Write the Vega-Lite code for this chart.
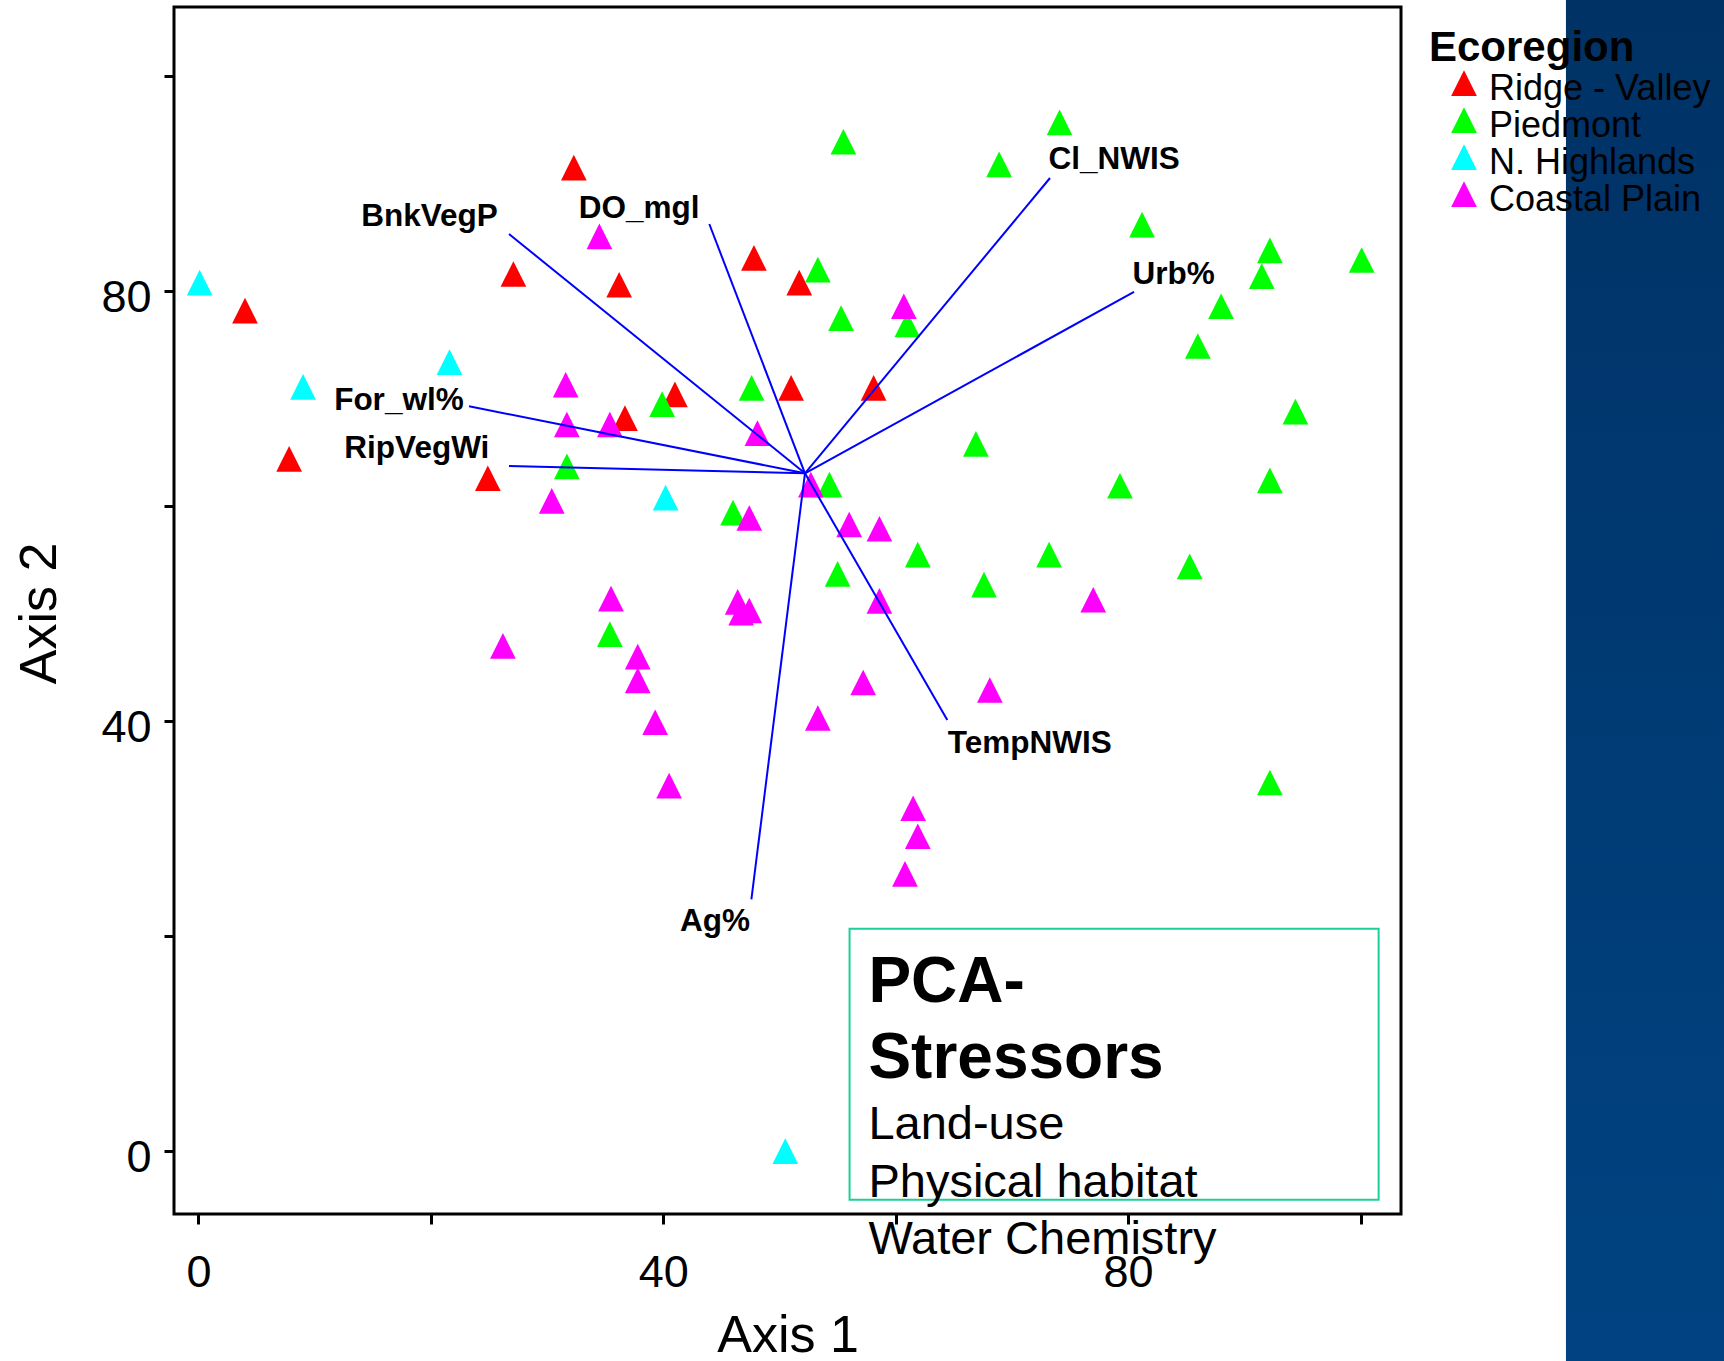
{
  "$schema": "https://vega.github.io/schema/vega-lite/v6.json",
  "width": 1227,
  "height": 1207,
  "autosize": {"type": "none"},
  "padding": {"left": 174, "top": 7, "right": 323, "bottom": 147},
  "background": "white",
  "config": {
    "font": "Liberation Sans",
    "view": {"stroke": "black", "strokeWidth": 3},
    "axis": {
      "grid": false, "domain": false, "ticks": true, "tickColor": "black", "tickWidth": 3, "tickSize": 10,
      "labelColor": "black", "labelFontSize": 45, "labelFont": "Liberation Sans",
      "labelFlush": false, "labelOverlap": false, "labelBound": false,
      "titleFont": "Liberation Sans", "titleFontWeight": "normal", "titleFontSize": 52, "titleColor": "black"
    }
  },
  "datasets": {
    "one": [{"k": 1}],
    "sites": [
      {"x": 32.3, "y": 91.5, "Ecoregion": "Ridge - Valley"},
      {"x": 4.0, "y": 78.2, "Ecoregion": "Ridge - Valley"},
      {"x": 27.1, "y": 81.6, "Ecoregion": "Ridge - Valley"},
      {"x": 7.8, "y": 64.4, "Ecoregion": "Ridge - Valley"},
      {"x": 24.9, "y": 62.6, "Ecoregion": "Ridge - Valley"},
      {"x": 47.8, "y": 83.1, "Ecoregion": "Ridge - Valley"},
      {"x": 51.7, "y": 80.8, "Ecoregion": "Ridge - Valley"},
      {"x": 36.2, "y": 80.6, "Ecoregion": "Ridge - Valley"},
      {"x": 51.0, "y": 71.0, "Ecoregion": "Ridge - Valley"},
      {"x": 58.1, "y": 71.0, "Ecoregion": "Ridge - Valley"},
      {"x": 41.0, "y": 70.4, "Ecoregion": "Ridge - Valley"},
      {"x": 36.7, "y": 68.2, "Ecoregion": "Ridge - Valley"},
      {"x": 31.7, "y": 63.7, "Ecoregion": "Piedmont"},
      {"x": 55.5, "y": 93.9, "Ecoregion": "Piedmont"},
      {"x": 53.3, "y": 82.0, "Ecoregion": "Piedmont"},
      {"x": 61.0, "y": 76.9, "Ecoregion": "Piedmont"},
      {"x": 55.3, "y": 77.5, "Ecoregion": "Piedmont"},
      {"x": 47.6, "y": 71.0, "Ecoregion": "Piedmont"},
      {"x": 39.9, "y": 69.5, "Ecoregion": "Piedmont"},
      {"x": 66.9, "y": 65.8, "Ecoregion": "Piedmont"},
      {"x": 54.3, "y": 62.0, "Ecoregion": "Piedmont"},
      {"x": 74.1, "y": 95.7, "Ecoregion": "Piedmont"},
      {"x": 68.9, "y": 91.8, "Ecoregion": "Piedmont"},
      {"x": 81.2, "y": 86.2, "Ecoregion": "Piedmont"},
      {"x": 92.2, "y": 83.8, "Ecoregion": "Piedmont"},
      {"x": 100.1, "y": 82.9, "Ecoregion": "Piedmont"},
      {"x": 91.5, "y": 81.4, "Ecoregion": "Piedmont"},
      {"x": 88.0, "y": 78.6, "Ecoregion": "Piedmont"},
      {"x": 86.0, "y": 74.9, "Ecoregion": "Piedmont"},
      {"x": 94.4, "y": 68.8, "Ecoregion": "Piedmont"},
      {"x": 79.3, "y": 61.9, "Ecoregion": "Piedmont"},
      {"x": 92.2, "y": 62.4, "Ecoregion": "Piedmont"},
      {"x": 73.2, "y": 55.5, "Ecoregion": "Piedmont"},
      {"x": 67.6, "y": 52.7, "Ecoregion": "Piedmont"},
      {"x": 85.3, "y": 54.4, "Ecoregion": "Piedmont"},
      {"x": 92.2, "y": 34.3, "Ecoregion": "Piedmont"},
      {"x": 46.0, "y": 59.4, "Ecoregion": "Piedmont"},
      {"x": 61.9, "y": 55.5, "Ecoregion": "Piedmont"},
      {"x": 55.0, "y": 53.7, "Ecoregion": "Piedmont"},
      {"x": 35.4, "y": 48.1, "Ecoregion": "Piedmont"},
      {"x": 0.1, "y": 80.8, "Ecoregion": "N. Highlands"},
      {"x": 21.6, "y": 73.4, "Ecoregion": "N. Highlands"},
      {"x": 9.0, "y": 71.1, "Ecoregion": "N. Highlands"},
      {"x": 40.2, "y": 60.8, "Ecoregion": "N. Highlands"},
      {"x": 50.5, "y": 0.0, "Ecoregion": "N. Highlands"},
      {"x": 31.6, "y": 71.3, "Ecoregion": "Coastal Plain"},
      {"x": 31.7, "y": 67.6, "Ecoregion": "Coastal Plain"},
      {"x": 30.4, "y": 60.5, "Ecoregion": "Coastal Plain"},
      {"x": 26.2, "y": 47.0, "Ecoregion": "Coastal Plain"},
      {"x": 34.5, "y": 85.1, "Ecoregion": "Coastal Plain"},
      {"x": 60.7, "y": 78.6, "Ecoregion": "Coastal Plain"},
      {"x": 35.4, "y": 67.6, "Ecoregion": "Coastal Plain"},
      {"x": 48.1, "y": 66.8, "Ecoregion": "Coastal Plain"},
      {"x": 52.7, "y": 62.0, "Ecoregion": "Coastal Plain"},
      {"x": 77.0, "y": 51.3, "Ecoregion": "Coastal Plain"},
      {"x": 68.1, "y": 42.9, "Ecoregion": "Coastal Plain"},
      {"x": 47.4, "y": 58.9, "Ecoregion": "Coastal Plain"},
      {"x": 56.0, "y": 58.3, "Ecoregion": "Coastal Plain"},
      {"x": 58.6, "y": 57.9, "Ecoregion": "Coastal Plain"},
      {"x": 35.5, "y": 51.4, "Ecoregion": "Coastal Plain"},
      {"x": 46.4, "y": 51.1, "Ecoregion": "Coastal Plain"},
      {"x": 47.4, "y": 50.3, "Ecoregion": "Coastal Plain"},
      {"x": 46.7, "y": 50.1, "Ecoregion": "Coastal Plain"},
      {"x": 58.6, "y": 51.2, "Ecoregion": "Coastal Plain"},
      {"x": 37.8, "y": 46.0, "Ecoregion": "Coastal Plain"},
      {"x": 37.8, "y": 43.8, "Ecoregion": "Coastal Plain"},
      {"x": 57.2, "y": 43.6, "Ecoregion": "Coastal Plain"},
      {"x": 39.3, "y": 39.9, "Ecoregion": "Coastal Plain"},
      {"x": 53.3, "y": 40.3, "Ecoregion": "Coastal Plain"},
      {"x": 40.5, "y": 34.0, "Ecoregion": "Coastal Plain"},
      {"x": 61.5, "y": 31.9, "Ecoregion": "Coastal Plain"},
      {"x": 61.9, "y": 29.3, "Ecoregion": "Coastal Plain"},
      {"x": 60.8, "y": 25.8, "Ecoregion": "Coastal Plain"}
    ],
    "loadings": [
      {"name": "BnkVegP", "x": 26.72, "y": 85.32},
      {"name": "DO_mgl", "x": 43.96, "y": 86.25},
      {"name": "Cl_NWIS", "x": 73.28, "y": 90.53},
      {"name": "Urb%", "x": 80.51, "y": 79.93},
      {"name": "For_wl%", "x": 23.28, "y": 69.30},
      {"name": "RipVegWi", "x": 26.72, "y": 63.74},
      {"name": "Ag%", "x": 47.58, "y": 23.43},
      {"name": "TempNWIS", "x": 64.44, "y": 40.11}
    ],
    "labels": [
      {"name": "BnkVegP", "x": 25.75, "y": 86.07, "side": "right"},
      {"name": "DO_mgl", "x": 43.12, "y": 86.85, "side": "right"},
      {"name": "For_wl%", "x": 22.82, "y": 68.96, "side": "right"},
      {"name": "RipVegWi", "x": 25.03, "y": 64.52, "side": "right"},
      {"name": "Ag%", "x": 47.46, "y": 20.52, "side": "right"},
      {"name": "Cl_NWIS", "x": 73.15, "y": 91.34, "side": "left"},
      {"name": "Urb%", "x": 80.37, "y": 80.71, "side": "left"},
      {"name": "TempNWIS", "x": 64.48, "y": 37.08, "side": "left"}
    ]
  },
  "layer": [
    {
      "data": {"name": "one"},
      "mark": {"type": "rect",
        "fill": {"gradient": "linear", "x1": 0, "y1": 0, "x2": 0, "y2": 1,
          "stops": [{"offset": 0, "color": "#003265"}, {"offset": 1, "color": "#004382"}]}},
      "encoding": {
        "x": {"datum": 117.68, "type": "quantitative", "scale": {"domain": [-2.108, 103.485], "nice": false, "zero": false}},
        "x2": {"datum": 140},
        "y": {"datum": 107.2, "type": "quantitative", "scale": {"domain": [-5.842, 106.437], "nice": false, "zero": false}},
        "y2": {"datum": -19.7}
      }
    },
    {
      "data": {"name": "sites"},
      "mark": {"type": "point", "filled": true, "shape": "M0,-1L1,1L-1,1Z", "size": 660, "opacity": 1, "strokeWidth": 0},
      "encoding": {
        "x": {
          "field": "x", "type": "quantitative",
          "scale": {"domain": [-2.108, 103.485], "nice": false, "zero": false},
          "axis": {"title": "Axis 1", "values": [0, 20, 40, 60, 80, 100],
            "labelExpr": "datum.value % 40 === 0 ? datum.label : ''",
            "labelPadding": 26, "titleBaseline": "alphabetic", "titleY": 137}
        },
        "y": {
          "field": "y", "type": "quantitative",
          "scale": {"domain": [-5.842, 106.437], "nice": false, "zero": false},
          "axis": {"title": "Axis 2", "values": [0, 20, 40, 60, 80, 100],
            "labelExpr": "datum.value % 40 === 0 ? datum.label : ''",
            "labelPadding": 13, "labelOffset": 6.6,
            "titleBaseline": "alphabetic", "titleAngle": -90, "titleX": -119, "titleY": 606}
        },
        "color": {
          "field": "Ecoregion", "type": "nominal",
          "scale": {"domain": ["Ridge - Valley", "Piedmont", "N. Highlands", "Coastal Plain"],
                    "range": ["#FF0000", "#00FF00", "#00FFFF", "#FF00FF"]},
          "legend": {
            "orient": "none", "legendX": 1255, "legendY": 21, "padding": 0,
            "title": "Ecoregion", "titleFontSize": 42, "titleFontWeight": "bold", "titleColor": "black",
            "titleFont": "Liberation Sans", "titleLimit": 400, "titlePadding": 1,
            "labelFontSize": 36, "labelColor": "black", "labelFont": "Liberation Sans", "labelLimit": 400,
            "symbolType": "M0,-1.45L1,0.55L-1,0.55Z", "symbolSize": 660, "symbolOffset": 17,
            "symbolStrokeWidth": 0, "symbolOpacity": 1, "labelOffset": 7, "rowPadding": 0
          }
        }
      }
    },
    {
      "data": {"name": "loadings"},
      "mark": {"type": "rule", "color": "#0000FF", "strokeWidth": 2},
      "encoding": {
        "x": {"field": "x", "type": "quantitative", "scale": {"domain": [-2.108, 103.485], "nice": false, "zero": false}},
        "y": {"field": "y", "type": "quantitative", "scale": {"domain": [-5.842, 106.437], "nice": false, "zero": false}},
        "x2": {"datum": 52.19}, "y2": {"datum": 63.06}
      }
    },
    {
      "data": {"name": "labels"},
      "transform": [{"filter": "datum.side === 'right'"}],
      "mark": {"type": "text", "align": "right", "baseline": "alphabetic", "fontSize": 31.5, "fontWeight": "bold", "color": "black", "font": "Liberation Sans"},
      "encoding": {
        "x": {"field": "x", "type": "quantitative", "scale": {"domain": [-2.108, 103.485], "nice": false, "zero": false}},
        "y": {"field": "y", "type": "quantitative", "scale": {"domain": [-5.842, 106.437], "nice": false, "zero": false}},
        "text": {"field": "name"}
      }
    },
    {
      "data": {"name": "labels"},
      "transform": [{"filter": "datum.side === 'left'"}],
      "mark": {"type": "text", "align": "left", "baseline": "alphabetic", "fontSize": 31.5, "fontWeight": "bold", "color": "black", "font": "Liberation Sans"},
      "encoding": {
        "x": {"field": "x", "type": "quantitative", "scale": {"domain": [-2.108, 103.485], "nice": false, "zero": false}},
        "y": {"field": "y", "type": "quantitative", "scale": {"domain": [-5.842, 106.437], "nice": false, "zero": false}},
        "text": {"field": "name"}
      }
    },
    {
      "data": {"name": "one"},
      "mark": {"type": "rect", "fill": "transparent", "stroke": "#1ccf98", "strokeWidth": 2},
      "encoding": {
        "x": {"datum": 56.03, "type": "quantitative", "scale": {"domain": [-2.108, 103.485], "nice": false, "zero": false}},
        "x2": {"datum": 101.56},
        "y": {"datum": 20.70, "type": "quantitative", "scale": {"domain": [-5.842, 106.437], "nice": false, "zero": false}},
        "y2": {"datum": -4.51}
      }
    },
    {
      "data": {"name": "one"},
      "mark": {"type": "text", "text": ["PCA-", "Stressors"], "lineHeight": 76.6, "align": "left", "baseline": "alphabetic",
        "fontSize": 64, "fontWeight": "bold", "color": "black", "font": "Liberation Sans"},
      "encoding": {
        "x": {"datum": 57.65, "type": "quantitative", "scale": {"domain": [-2.108, 103.485], "nice": false, "zero": false}},
        "y": {"datum": 13.91, "type": "quantitative", "scale": {"domain": [-5.842, 106.437], "nice": false, "zero": false}}
      }
    },
    {
      "data": {"name": "one"},
      "mark": {"type": "text", "text": ["Land-use", "Physical habitat", "Water Chemistry"], "lineHeight": 57.4, "align": "left", "baseline": "alphabetic",
        "fontSize": 47, "color": "black", "font": "Liberation Sans"},
      "encoding": {
        "x": {"datum": 57.65, "type": "quantitative", "scale": {"domain": [-2.108, 103.485], "nice": false, "zero": false}},
        "y": {"datum": 1.11, "type": "quantitative", "scale": {"domain": [-5.842, 106.437], "nice": false, "zero": false}}
      }
    }
  ]
}
